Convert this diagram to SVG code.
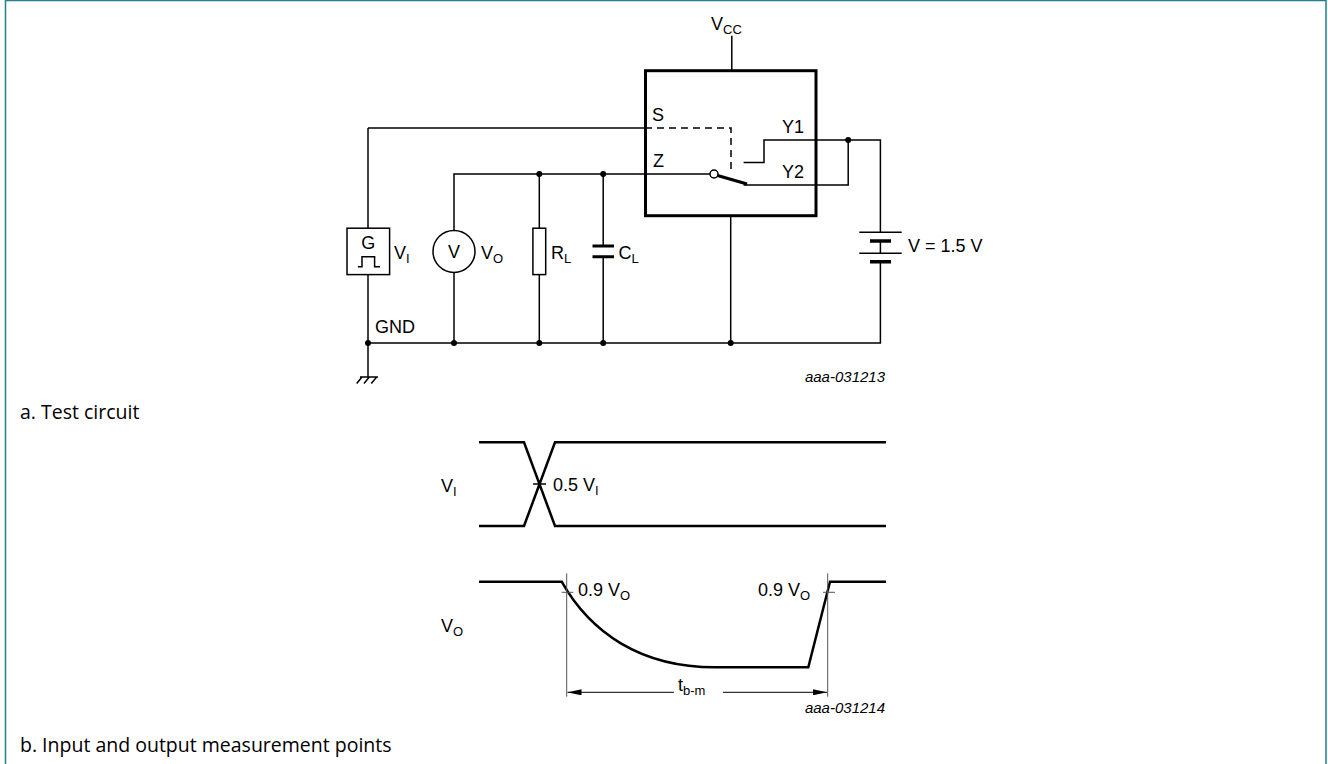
<svg xmlns="http://www.w3.org/2000/svg" width="1328" height="764" viewBox="0 0 1328 764">
<style>
.w{fill:none;stroke:#000;stroke-width:1.5}
.t{fill:none;stroke:#000;stroke-width:3}
.g{fill:none;stroke:#555;stroke-width:1}
.d{fill:#000}
text{font-family:"Liberation Sans",Arial,sans-serif;font-size:18px;fill:#000}
.s{font-size:13px}
.id{font-style:italic;font-size:15px}
.cap{font-family:"Open Sans","Noto Sans",sans-serif;font-size:19.5px}
</style>
<defs>
<marker id="ah" markerWidth="14" markerHeight="6" refX="14" refY="3" orient="auto-start-reverse" markerUnits="userSpaceOnUse">
<path d="M0,0 L14,3 L0,6 Z" fill="#000"/>
</marker>
</defs>
<rect x="5.5" y="0.5" width="1320.5" height="770" fill="none" stroke="#21808c" stroke-width="1.5"/>

<g id="connectors">
<path class="w" d="M731.8,35.7 V70.7"/>
<path class="w" d="M368,128 H645"/>
<path d="M645,128 H731 V171.4" fill="none" stroke="#000" stroke-width="1.5" stroke-dasharray="7,5"/>
<path class="w" d="M368,128 V228"/>
<path class="w" d="M368,274.6 V377"/>
<path class="w" d="M454,230.4 V174 H710"/>
<path class="w" d="M454,272.4 V343"/>
<path class="w" d="M539.3,174 V228"/>
<path class="w" d="M539.3,274.6 V343"/>
<path class="w" d="M603.2,174 V246"/>
<path class="w" d="M603.2,256.8 V343"/>
<path class="w" d="M730.7,215.7 V343"/>
<path class="w" d="M368,343 H880.4 V261.7"/>
<path class="w" d="M743.6,162.5 H764 V140 H880.4 V232.3"/>
<path class="w" d="M743.6,185 H848.2 V140"/>
<path class="w" d="M880.4,241 V253.3"/>
<circle class="d" cx="368" cy="343" r="3"/>
<circle class="d" cx="454" cy="343" r="3"/>
<circle class="d" cx="539.3" cy="343" r="3"/>
<circle class="d" cx="603.2" cy="343" r="3"/>
<circle class="d" cx="730.7" cy="343" r="3"/>
<circle class="d" cx="539.3" cy="174" r="3"/>
<circle class="d" cx="603.2" cy="174" r="3"/>
<circle class="d" cx="848.2" cy="140" r="3"/>
</g>

<g id="ic">
<rect class="t" x="645.5" y="70.7" width="170.5" height="145"/>
<text x="711" y="30">V<tspan class="s" dy="4">CC</tspan></text>
<text x="652" y="121">S</text>
<text x="653" y="167">Z</text>
<text x="782" y="133">Y1</text>
<text x="782" y="178">Y2</text>
<circle cx="714" cy="174" r="4" fill="#fff" stroke="#000" stroke-width="1.5"/>
<path class="t" d="M717.5,175.5 L747,184"/>
</g>

<g id="generator">
<rect class="w" x="347" y="228.2" width="42.6" height="46.4" fill="#fff"/>
<text x="368.3" y="249" text-anchor="middle">G</text>
<path class="w" d="M357.9,266.8 H362 V256.8 H374.6 V266.8 H380"/>
<text x="394" y="259">V<tspan class="s" dy="4">I</tspan></text>
</g>

<g id="voltmeter">
<circle class="w" cx="454" cy="251.4" r="21"/>
<text x="454" y="257.5" text-anchor="middle">V</text>
<text x="481" y="259">V<tspan class="s" dy="4">O</tspan></text>
</g>

<g id="resistor">
<rect class="w" x="532.9" y="228.2" width="12.8" height="46.4"/>
<text x="551" y="259">R<tspan class="s" dy="4">L</tspan></text>
</g>

<g id="capacitor">
<path class="t" d="M592.5,246 H614 M592.5,256.8 H614"/>
<text x="618.5" y="259">C<tspan class="s" dy="4">L</tspan></text>
</g>

<g id="battery">
<path class="w" d="M859.3,232.3 H901.7 M859.3,253.3 H901.7"/>
<path d="M870,241 H891 M870,261.7 H891" fill="none" stroke="#000" stroke-width="3.5"/>
<text x="908" y="252">V = 1.5 V</text>
</g>

<g id="ground">
<text x="375" y="333">GND</text>
<path class="w" d="M360,377 H378 M362,377 L356.7,383.5 M369.3,377 L364,383.5 M376.7,377 L371.3,383.5"/>
</g>

<text class="id" x="885" y="382" text-anchor="end">aaa-031213</text>
<text class="cap" x="20" y="419">a. Test circuit</text>

<g id="timing-input">
<path d="M479,442.3 H524 L555,526 H886 M479,526 H524 L555,442.3 H886" fill="none" stroke="#000" stroke-width="2.5"/>
<path class="w" d="M533,484 H546"/>
<text x="553" y="491">0.5 V<tspan class="s" dy="4">I</tspan></text>
<text x="441" y="492">V<tspan class="s" dy="4">I</tspan></text>
</g>

<g id="timing-output">
<path d="M479,581.7 H561.7 C590,632 640,667.3 715,667.3 H808.3 L830,581.7 H886" fill="none" stroke="#000" stroke-width="2.5"/>
<path class="g" d="M566.7,573.3 V696.7 M827.7,573.3 V696.7"/>
<path class="g" d="M561.7,592.3 H573.3 M823,592.3 H835"/>
<text x="578" y="596">0.9 V<tspan class="s" dy="4">O</tspan></text>
<text x="758" y="596">0.9 V<tspan class="s" dy="4">O</tspan></text>
<text x="441" y="632">V<tspan class="s" dy="4">O</tspan></text>
<path d="M674,692.3 H567.5" fill="none" stroke="#000" stroke-width="1" marker-end="url(#ah)"/>
<path d="M723,692.3 H827" fill="none" stroke="#000" stroke-width="1" marker-end="url(#ah)"/>
<text x="678" y="691">t<tspan class="s" dy="4">b-m</tspan></text>
<text class="id" x="885" y="713" text-anchor="end">aaa-031214</text>
</g>

<text class="cap" x="20" y="752">b. Input and output measurement points</text>
</svg>
